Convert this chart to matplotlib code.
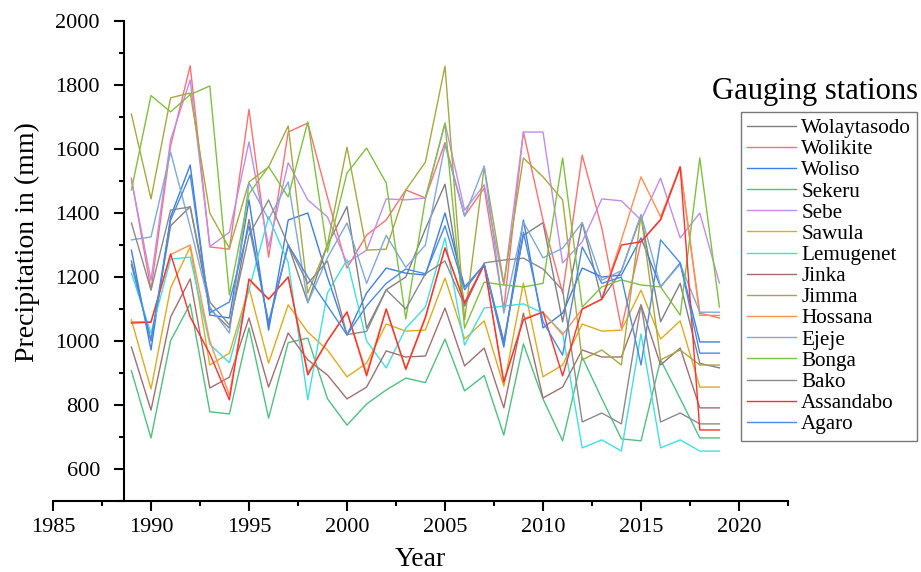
import matplotlib
matplotlib.use("Agg")
import matplotlib.pyplot as plt
from matplotlib.ticker import MultipleLocator

plt.rcParams['font.family'] = ['Liberation Serif', 'DejaVu Serif']

years = list(range(1989, 2020))

stations = ['Wolaytasodo', 'Wolikite', 'Woliso', 'Sekeru', 'Sebe', 'Sawula', 'Lemugenet',
            'Jinka', 'Jimma', 'Hossana', 'Ejeje', 'Bonga', 'Bako', 'Assandabo', 'Agaro']

wolaytasodo = [1250, 1000, 1360, 1420, 1100, 1040, 1380, 1050, 1300, 1120, 1300, 1420, 1040, 1160, 1200, 1350,
               1490, 1110, 1240, 1000, 1330, 1370, 1060, 1370, 1130, 1220, 1390, 1060, 1180, 930, 916]
wolikite = [1509, 1160, 1610, 1860, 1294, 1287, 1724, 1262, 1653, 1681, 1450, 1228, 1331, 1378, 1472, 1447,
            1620, 1391, 1478, 1100, 1653, 1378, 1150, 1581, 1353, 1040, 1310, 1378, 1544, 1087, 1072]
woliso = [1284, 972, 1388, 1550, 1081, 1072, 1441, 1034, 1378, 1400, 1200, 1019, 1150, 1228, 1212, 1206,
          1400, 1169, 1238, 981, 1378, 1041, 1087, 1228, 1200, 1206, 1322, 1169, 1244, 997, 997]
sekeru = [907, 697, 1001, 1116, 779, 772, 1041, 759, 995, 1009, 820, 737, 803, 847, 884, 870,
          1006, 844, 892, 706, 991, 819, 688, 950, 820, 694, 688, 941, 820, 697, 697]
sebe = [1503, 1190, 1628, 1816, 1295, 1340, 1622, 1294, 1557, 1441, 1388, 1244, 1284, 1444, 1441, 1447,
        1681, 1409, 1488, 1175, 1653, 1653, 1244, 1310, 1444, 1438, 1378, 1509, 1322, 1400, 1181]
sawula = [1066, 850, 1166, 1294, 925, 962, 1166, 931, 1113, 1028, 972, 888, 931, 1053, 1031, 1034,
          1197, 1006, 1063, 859, 1181, 888, 925, 1053, 1031, 1034, 1159, 1006, 1063, 856, 856]
lemugenet = [1212, 1025, 1256, 1262, 990, 932, 1160, 1388, 1245, 816, 1150, 1254, 1000, 916, 1040, 1106,
             1322, 987, 1103, 1109, 1116, 1087, 1025, 666, 691, 656, 1022, 666, 691, 656, 656]
jinka = [981, 784, 1075, 1194, 853, 887, 1072, 856, 1025, 941, 894, 819, 856, 969, 950, 953,
         1103, 922, 978, 791, 1087, 822, 856, 972, 950, 950, 1113, 925, 978, 791, 791]
jimma = [1709, 1444, 1760, 1775, 1400, 1290, 1497, 1544, 1672, 1150, 1300, 1606, 1284, 1287, 1472, 1559,
         1859, 1066, 1544, 1180, 1572, 1513, 1441, 941, 972, 925, 1394, 941, 972, 925, 925]
hossana = [1060, 1060, 1270, 1300, 1000, 830, 1190, 1130, 1200, 900, 1000, 1090, 900, 1100, 910, 1070,
           1290, 1120, 1240, 870, 1070, 1090, 1020, 1100, 1130, 1316, 1513, 1388, 1544, 1080, 1080]
ejeje = [1316, 1325, 1590, 1356, 1106, 1025, 1494, 1380, 1497, 1119, 1260, 1369, 1180, 1330, 1230, 1300,
         1613, 1390, 1547, 1087, 1372, 1260, 1290, 1370, 1190, 1220, 1395, 1170, 1240, 1090, 1090]
bonga = [1472, 1767, 1716, 1770, 1797, 1144, 1460, 1545, 1450, 1685, 1278, 1525, 1603, 1494, 1069, 1445,
         1680, 1040, 1184, 1175, 1169, 1180, 1572, 1106, 1169, 1191, 1175, 1169, 1081, 1572, 1106]
bako = [1369, 1159, 1409, 1419, 1122, 1050, 1331, 1441, 1300, 1180, 1250, 1020, 1030, 1160, 1100, 1210,
        1250, 1110, 1244, 1253, 1259, 1225, 1159, 747, 775, 741, 1113, 747, 775, 741, 741]
assandabo = [1056, 1059, 1272, 1075, 960, 816, 1194, 1131, 1200, 894, 1000, 1091, 891, 1100, 913, 1075,
             1291, 1119, 1238, 872, 1066, 1091, 891, 1100, 1131, 1300, 1310, 1380, 1544, 722, 722]
agaro = [1238, 1003, 1378, 1519, 1088, 1122, 1359, 1059, 1300, 1200, 1110, 1019, 1110, 1180, 1225, 1210,
         1360, 1160, 1240, 990, 1340, 1060, 956, 1294, 1180, 1200, 925, 1316, 1244, 962, 962]

series = [wolaytasodo, wolikite, woliso, sekeru, sebe, sawula, lemugenet,
          jinka, jimma, hossana, ejeje, bonga, bako, assandabo, agaro]
colors = ['#7f7f7f', '#ff7070', '#3f7fe0', '#50c080', '#c08cf0', '#e0aa20', '#40e0e0',
          '#a07070', '#a8a840', '#ff9050', '#80a8d8', '#80c040', '#8a8a8a', '#ff3030', '#4a8ae8']

fig = plt.figure(figsize=(9.21, 5.72), dpi=100)
ax = fig.add_axes([53 / 921, 1 - 501 / 572, (788 - 53) / 921, (501 - 21) / 572])

for name, vals, c in zip(stations, series, colors):
    ax.plot(years, vals, color=c, lw=1.0, label=name)

ax.set_xlim(1985, 2022.5)
ax.set_ylim(500, 2000)
ax.spines['left'].set_position(('data', 1988.6))
ax.spines['top'].set_visible(False)
ax.spines['right'].set_visible(False)
for s in ['left', 'bottom']:
    ax.spines[s].set_linewidth(1.5)

ax.xaxis.set_major_locator(MultipleLocator(5))
ax.xaxis.set_minor_locator(MultipleLocator(2.5))
ax.yaxis.set_major_locator(MultipleLocator(200))
ax.yaxis.set_minor_locator(MultipleLocator(100))
ax.tick_params(which='major', direction='out', length=7, width=1.5, labelsize=16, pad=5)
ax.tick_params(axis='y', which='major', pad=10)
ax.tick_params(which='minor', direction='out', length=3.5, width=1.5)

ax.set_xlabel('Year', fontsize=20)
ax.xaxis.set_label_coords(0.5, -0.095)
ax.set_ylabel('Precipitation in (mm)', fontsize=20)
ax.yaxis.set_label_coords((40 - 53) / 735, (501 - 242) / 480)

leg = ax.legend(loc='upper left', bbox_to_anchor=(741 / 921, 1 - 112 / 572),
                bbox_transform=fig.transFigure, borderaxespad=0, fontsize=15.2,
                handlelength=2.3, labelspacing=0.065, fancybox=False, frameon=True,
                borderpad=0.3, handletextpad=0.25)
leg.get_frame().set_edgecolor('#555555')
leg.get_frame().set_linewidth(1.0)

fig.text(815 / 921, 1 - 92 / 572, 'Gauging stations', fontsize=22, ha='center', va='center')

fig.savefig('out.png', dpi=100)
